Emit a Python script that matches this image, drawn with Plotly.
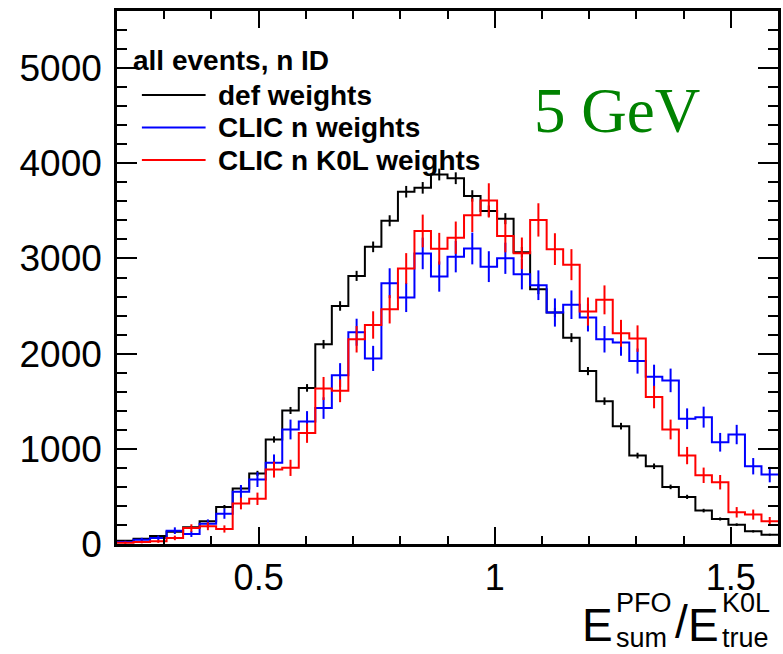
import plotly.graph_objects as go

# Binning of the response histograms
x_min = 0.2
bin_width = 0.035
n_bins = 40

# Entries per bin
def_weights = [35, 55, 85, 130, 175, 238, 390, 582, 742, 1098,
               1403, 1640, 2098, 2501, 2817, 3122, 3396, 3701, 3742, 3882,
               3843, 3657, 3498, 3418, 3066, 2677, 2432, 2168, 1817, 1501,
               1238, 929, 817, 600, 495, 351, 263, 203, 133, 98]
def_err = [6, 7, 9, 11, 13, 15, 20, 24, 27, 33,
           37, 40, 46, 50, 53, 56, 58, 61, 61, 62,
           62, 60, 59, 58, 55, 52, 49, 47, 43, 39,
           35, 30, 29, 24, 22, 19, 16, 14, 12, 10]

clic_n = [21, 45, 64, 140, 105, 214, 318, 550, 677, 853,
          1203, 1288, 1428, 1774, 2225, 1950, 2740, 2590, 3053, 2810,
          3019, 3105, 2914, 3002, 2835, 2719, 2432, 2514, 2379, 2151,
          2116, 1922, 1758, 1719, 1316, 1333, 1069, 1150, 817, 729]
clic_n_err = [14, 20, 24, 35, 31, 44, 53, 70, 78, 88,
              104, 108, 113, 126, 142, 132, 157, 153, 166, 159,
              165, 167, 162, 164, 160, 156, 148, 150, 146, 139,
              138, 132, 126, 124, 109, 110, 98, 102, 86, 81]

clic_k0l = [14, 21, 28, 64, 168, 186, 158, 426, 475, 782,
            800, 1165, 1634, 1610, 2151, 2301, 2466, 2895, 3289, 3102,
            3218, 3454, 3610, 3236, 3054, 3405, 3098, 2935, 2442, 2565,
            2214, 2158, 1544, 1203, 929, 722, 649, 333, 309, 238]
clic_k0l_err = [11, 14, 16, 24, 39, 41, 38, 62, 65, 84,
                85, 102, 121, 120, 139, 144, 149, 161, 172, 167,
                170, 176, 180, 171, 166, 175, 167, 163, 148, 152,
                141, 139, 118, 104, 91, 81, 76, 55, 53, 46]

series = [
    ("def weights", def_weights, def_err, "black"),
    ("CLIC n weights", clic_n, clic_n_err, "rgb(0,0,255)"),
    ("CLIC n K0L weights", clic_k0l, clic_k0l_err, "rgb(255,0,0)"),
]
legend_header = "all events, n ID"
energy_label = "5 GeV"

x_ticks = [0.5, 1.0, 1.5]
x_tick_text = ["0.5", "1", "1.5"]
y_ticks = [0, 1000, 2000, 3000, 4000, 5000]

edges = [x_min + i * bin_width for i in range(n_bins + 1)]
centers = [x_min + (i + 0.5) * bin_width for i in range(n_bins)]

fig = go.Figure()
for name, vals, errs, col in series:
    # step outline
    fig.add_trace(go.Scatter(
        x=edges, y=vals + [vals[-1]], mode="lines", line_shape="hv",
        line=dict(color=col, width=2), showlegend=False, hoverinfo="skip"))
    # statistical error bars at bin centres
    fig.add_trace(go.Scatter(
        x=centers, y=vals, mode="markers",
        marker=dict(size=1, color=col, opacity=0),
        error_y=dict(type="data", array=errs, visible=True,
                     color=col, thickness=2, width=0),
        showlegend=False, name=name))

W, H = 783, 654
ml, mr, mt, mb = 117, 2, 11, 110
pw, ph = W - ml - mr, H - mt - mb


def px(x):
    return (x - ml) / pw


def py(y):
    return (H - mb - y) / ph


font_sans = "Liberation Sans, Arial, sans-serif"
annotations = []
shapes = []

# legend block
annotations.append(dict(text="<b>%s</b>" % legend_header, x=px(131), y=py(60),
                        xref="paper", yref="paper", xanchor="left",
                        yanchor="middle", showarrow=False,
                        font=dict(family=font_sans, size=28, color="black")))
for i, (name, vals, errs, col) in enumerate(series):
    yy = py(95 + 32.5 * i)
    shapes.append(dict(type="line", xref="paper", yref="paper",
                       x0=px(142), x1=px(206), y0=yy, y1=yy,
                       line=dict(color=col, width=2)))
    annotations.append(dict(text="<b>%s</b>" % name, x=px(216), y=yy,
                            xref="paper", yref="paper", xanchor="left",
                            yanchor="middle", showarrow=False,
                            font=dict(family=font_sans, size=28,
                                      color="black")))

# energy label
annotations.append(dict(text=energy_label, x=px(619), y=py(111),
                        xref="paper", yref="paper", xanchor="center",
                        yanchor="middle", showarrow=False,
                        font=dict(family="Liberation Serif, Times New Roman, serif",
                                  size=63, color="rgb(0,130,0)")))

# x-axis title E_sum^PFO / E_true^K0L, with stacked super/subscripts
big, small = 46, 27
title_parts = [
    ("E", 583, 625, big),
    ("PFO<br>sum", 617, 620, small),
    ("/", 677, 622, big),
    ("E", 690, 625, big),
    ("K0L<br>true", 724, 620, small),
]
for txt, xx, yy, sz in title_parts:
    annotations.append(dict(text=txt, x=px(xx), y=py(yy), xref="paper",
                            yref="paper", xanchor="left", yanchor="middle",
                            align="left", showarrow=False, borderpad=0,
                            font=dict(family=font_sans, size=sz,
                                      color="black")))

fig.update_layout(
    width=W, height=H,
    margin=dict(l=ml, r=mr, t=mt, b=mb),
    paper_bgcolor="white", plot_bgcolor="white",
    showlegend=False,
    annotations=annotations, shapes=shapes,
    font=dict(family=font_sans, color="black"),
)
fig.update_xaxes(
    range=[x_min, x_min + n_bins * bin_width],
    tickvals=x_ticks, ticktext=x_tick_text,
    ticks="inside", ticklen=17, tickwidth=2, tickcolor="black",
    minor=dict(dtick=0.1, tick0=0, ticks="inside", ticklen=8,
               tickwidth=2, tickcolor="black", showgrid=False),
    showline=True, linewidth=2.5, linecolor="black", mirror="ticks",
    showgrid=False, zeroline=False,
    tickfont=dict(family=font_sans, size=36, color="black"),
    ticklabelstandoff=0,
)
fig.update_yaxes(
    range=[0, 5600],
    tickvals=y_ticks, tickformat="d",
    ticks="inside", ticklen=20, tickwidth=2, tickcolor="black",
    minor=dict(dtick=200, tick0=0, ticks="inside", ticklen=10,
               tickwidth=2, tickcolor="black", showgrid=False),
    showline=True, linewidth=2.5, linecolor="black", mirror="ticks",
    showgrid=False, zeroline=False,
    tickfont=dict(family=font_sans, size=37, color="black"),
    ticklabelstandoff=5,
)

fig.write_html("out.html")
